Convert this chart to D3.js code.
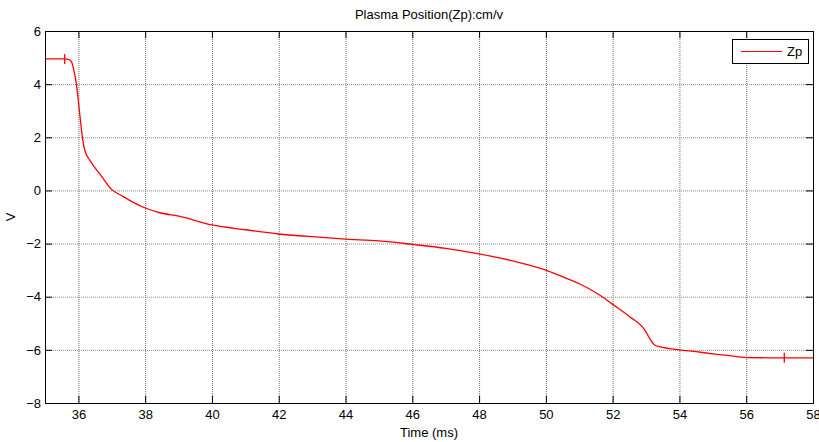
<!DOCTYPE html>
<html>
<head>
<meta charset="utf-8">
<script src="https://cdn.jsdelivr.net/npm/d3@7"></script>
<style>
  body { margin: 0; background: #fff; }
  svg { display: block; font-family: "Liberation Sans", Arial, sans-serif; }
</style>
</head>
<body>
<svg id="chart" width="819" height="442"></svg>
<script>
// time (ms) and Zp signal (V)
const timeMs = [35, 35.59, 35.7, 35.79, 35.85, 35.94, 36.03, 36.12, 36.19, 36.34, 36.5, 36.7,
  36.99, 37.3, 37.6, 38.04, 38.44, 39.04, 40.0, 41.0, 42.0, 43.0, 44.0, 45.0, 46.0, 47.0,
  48.0, 49.0, 50.0, 50.42, 51.02, 51.5, 51.71, 51.96, 52.51, 52.96, 53.11, 53.26, 53.41, 54.0,
  54.5, 55.0, 55.5, 56.0, 57.0, 58.0];
const zpVolts = [4.95, 4.95, 4.93, 4.85, 4.6, 4.0, 3.0, 2.0, 1.52, 1.14, 0.85, 0.52,
  0.04, -0.2, -0.42, -0.68, -0.84, -0.98, -1.3, -1.48, -1.64, -1.74, -1.83, -1.9, -2.03, -2.18,
  -2.39, -2.65, -3.0, -3.21, -3.52, -3.85, -4.02, -4.25, -4.75, -5.25, -5.57, -5.82, -5.88, -6.0,
  -6.07, -6.15, -6.22, -6.29, -6.3, -6.3];
// small vertical marks on the trace
const markTimes = [35.59, 57.14];
const markValues = [4.95, -6.3];

const xTicks = [36, 38, 40, 42, 44, 46, 48, 50, 52, 54, 56, 58];
const yTicks = [-8, -6, -4, -2, 0, 2, 4, 6];

const margin = { top: 31, right: 6, bottom: 39, left: 45 };
const width = 819 - margin.left - margin.right,
      height = 442 - margin.top - margin.bottom;

const svg = d3.select("#chart");

const x = d3.scaleLinear().domain([35, 58]).range([0, width]);
const y = d3.scaleLinear().domain([-8, 6]).range([height, 0]);

const chart = svg.append("g")
  .attr("transform", `translate(${margin.left},${margin.top})`);

// grid
chart.append("g").selectAll("line.vg")
  .data(xTicks.filter(d => d < 58))
  .enter().append("line")
  .attr("x1", d => x(d) + 0.5).attr("x2", d => x(d) + 0.5)
  .attr("y1", 0).attr("y2", height)
  .attr("stroke", "#6e6e6e").attr("stroke-dasharray", "1,1");
chart.append("g").selectAll("line.hg")
  .data(yTicks.filter(d => d > -8 && d < 6))
  .enter().append("line")
  .attr("x1", 0).attr("x2", width)
  .attr("y1", d => y(d) + 0.5).attr("y2", d => y(d) + 0.5)
  .attr("stroke", "#8a8a8a").attr("stroke-dasharray", "1,1");

// axes (MATLAB style: inward ticks on all four sides)
const tickLen = 7;
const xAxisB = chart.append("g")
  .attr("transform", `translate(0,${height})`)
  .call(d3.axisBottom(x).tickValues(xTicks).tickSizeInner(-tickLen).tickSizeOuter(0).tickPadding(7));
const xAxisT = chart.append("g")
  .call(d3.axisTop(x).tickValues(xTicks).tickSizeInner(-tickLen).tickSizeOuter(0).tickFormat(""));
const yAxisL = chart.append("g")
  .call(d3.axisLeft(y).tickValues(yTicks).tickSizeInner(-tickLen).tickSizeOuter(0).tickPadding(4));
const yAxisR = chart.append("g")
  .attr("transform", `translate(${width},0)`)
  .call(d3.axisRight(y).tickValues(yTicks).tickSizeInner(-tickLen).tickSizeOuter(0).tickFormat(""));

[xAxisB, xAxisT, yAxisL, yAxisR].forEach(a => {
  a.select(".domain").remove();
  a.selectAll("line").attr("stroke", "#000");
  a.selectAll("text").style("font-size", "13px").attr("fill", "#000")
    .style("font-family", "'Liberation Sans', Arial, sans-serif");
});

// data line
const line = d3.line()
  .x((d, i) => x(timeMs[i]))
  .y(d => y(d))
  .curve(d3.curveMonotoneX);
chart.append("path")
  .datum(zpVolts)
  .attr("fill", "none")
  .attr("stroke", "#ff0000")
  .attr("stroke-width", 1.3)
  .attr("d", line);

chart.selectAll(".mark")
  .data(markTimes)
  .enter().append("line")
  .attr("x1", d => x(d)).attr("x2", d => x(d))
  .attr("y1", (d, i) => y(markValues[i]) - 5)
  .attr("y2", (d, i) => y(markValues[i]) + 5)
  .attr("stroke", "#ff0000").attr("stroke-width", 1.3);

// box
chart.append("rect")
  .attr("x", 0.5).attr("y", 0.5)
  .attr("width", width).attr("height", height)
  .attr("fill", "none").attr("stroke", "#000");

// legend
const legend = chart.append("g").attr("transform", `translate(${x(35) + 687},${8})`);
legend.append("rect")
  .attr("x", 0.5).attr("y", 0.5).attr("width", 76).attr("height", 24)
  .attr("fill", "#fff").attr("stroke", "#000");
legend.append("line")
  .attr("x1", 9).attr("x2", 50).attr("y1", 12.5).attr("y2", 12.5)
  .attr("stroke", "#ff0000").attr("stroke-width", 1);
legend.append("text")
  .attr("x", 55).attr("y", 17)
  .style("font-size", "13px")
  .text("Zp");

// title and labels
svg.append("text")
  .attr("x", margin.left + width / 2).attr("y", 19)
  .attr("text-anchor", "middle")
  .style("font-size", "13px")
  .text("Plasma Position(Zp):cm/v");

svg.append("text")
  .attr("x", margin.left + width / 2).attr("y", 437)
  .attr("text-anchor", "middle")
  .style("font-size", "13px")
  .text("Time (ms)");

svg.append("text")
  .attr("transform", `translate(15,${margin.top + height / 2}) rotate(-90)`)
  .attr("text-anchor", "middle")
  .style("font-size", "13px")
  .text("V");
</script>
</body>
</html>
